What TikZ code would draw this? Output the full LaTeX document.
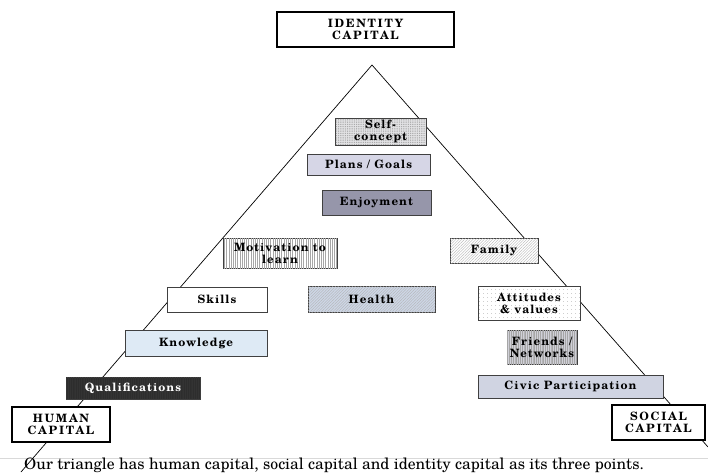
\documentclass[tikz,border=0pt]{standalone}
\usepackage{fontspec}
\setmainfont{TeX Gyre Schola}
\newfontfamily\boxfont[LetterSpace=9]{TeX Gyre Schola}
\newfontfamily\capfont[LetterSpace=15]{TeX Gyre Schola}
\usetikzlibrary{patterns.meta}
\definecolor{plansc}{RGB}{214,214,230}
\definecolor{enjoyc}{RGB}{150,150,170}
\definecolor{knowc}{RGB}{222,234,245}
\definecolor{healthc}{RGB}{205,214,230}
\definecolor{civicc}{RGB}{208,212,226}
\definecolor{friendsc}{RGB}{208,208,216}
\definecolor{qualc}{RGB}{45,45,45}
\definecolor{selfc}{RGB}{226,226,228}
\tikzset{
  bx/.style={draw=black!75, line width=0.8pt, inner sep=0pt, align=center,
    font=\boxfont\bfseries\fontsize{11.5}{12}\selectfont},
  capbox/.style={draw=black, line width=2.4pt, fill=white, inner sep=0pt, align=center,
    font=\capfont\bfseries\fontsize{11.5}{12.5}\selectfont},
  tri/.style={draw=black, line width=0.7pt},
}
\begin{document}
\begin{tikzpicture}[x=1pt,y=-1pt]
\useasboundingbox (0,0) rectangle (708,472);
\fill[white] (0,0) rectangle (708,472);
% faint scan edge above caption
\coordinate (edgeL) at (0,458);
\coordinate (edgeR) at (708,458);
\draw[black!15, line width=0.6pt] (edgeL) -- (edgeR);
% triangle
\coordinate (apex) at (372,65);
\coordinate (bl) at (21,472);
\coordinate (br) at (708,447);
\draw[tri] (bl) -- (apex) -- (br);
% boxes
\node[capbox, minimum width=177pt, minimum height=35pt] (identity) at (365.5,29.5) {IDENTITY\\CAPITAL};
\node[bx, minimum width=91pt, minimum height=27pt, fill=selfc,
  postaction={pattern={Dots[distance=1.8pt, radius=0.4pt]}, pattern color=black!50}] (self) at (380.5,131.5) {Self-\\concept};
\node[bx, minimum width=123pt, minimum height=21pt, fill=plansc] (plans) at (368.5,164.5) {Plans / Goals};
\node[bx, minimum width=109pt, minimum height=25pt, fill=enjoyc] (enjoy) at (376.5,202.5) {Enjoyment};
\node[bx, minimum width=114pt, minimum height=30pt, fill=white,
  postaction={pattern={Lines[angle=90, distance=2.2pt, line width=0.35pt]}, pattern color=black!35}] (motiv) at (280,253) {Motivation to\\learn};
\node[bx, minimum width=88pt, minimum height=25pt, fill=white,
  postaction={pattern={Lines[angle=45, distance=2pt, line width=0.35pt]}, pattern color=black!30}] (family) at (494,250.5) {Family};
\node[bx, minimum width=100pt, minimum height=25pt, fill=white] (skills) at (217,299.5) {Skills};
\node[bx, minimum width=127pt, minimum height=26pt, fill=healthc,
  postaction={pattern={Lines[angle=45, distance=2pt, line width=0.35pt]}, pattern color=black!30}] (health) at (371.5,299) {Health};
\node[bx, minimum width=102pt, minimum height=34pt, fill=white,
  postaction={pattern={Dots[distance=4pt, radius=0.4pt]}, pattern color=black!45}] (attitudes) at (529,303) {Attitudes\\\& values};
\node[bx, minimum width=142pt, minimum height=26pt, fill=knowc] (knowledge) at (196,343) {Knowledge};
\node[bx, minimum width=70pt, minimum height=34pt, fill=friendsc,
  postaction={pattern={Lines[angle=90, distance=1.8pt, line width=0.35pt]}, pattern color=black!35}] (friends) at (542,347) {Friends /\\Networks};
\node[bx, minimum width=185pt, minimum height=23pt, fill=civicc] (civic) at (570.5,386.5) {Civic Participation};
\node[bx, minimum width=134pt, minimum height=22pt, fill=qualc, text=white,
  postaction={pattern={Lines[angle=90, distance=1.8pt, line width=0.4pt]}, pattern color=black!80}] (qual) at (133,388) {Qualifications};
\node[capbox, minimum width=98pt, minimum height=35pt] (human) at (61,424.5) {HUMAN\\CAPITAL};
\node[capbox, minimum width=93pt, minimum height=35pt] (social) at (658.5,422.5) {SOCIAL\\CAPITAL};
% caption
\node[anchor=base west, inner sep=0pt, font=\fontsize{15.7}{17}\selectfont] (caption) at (24,469)
  {Our triangle has human capital, social capital and identity capital as its three points.};
\end{tikzpicture}
\end{document}
